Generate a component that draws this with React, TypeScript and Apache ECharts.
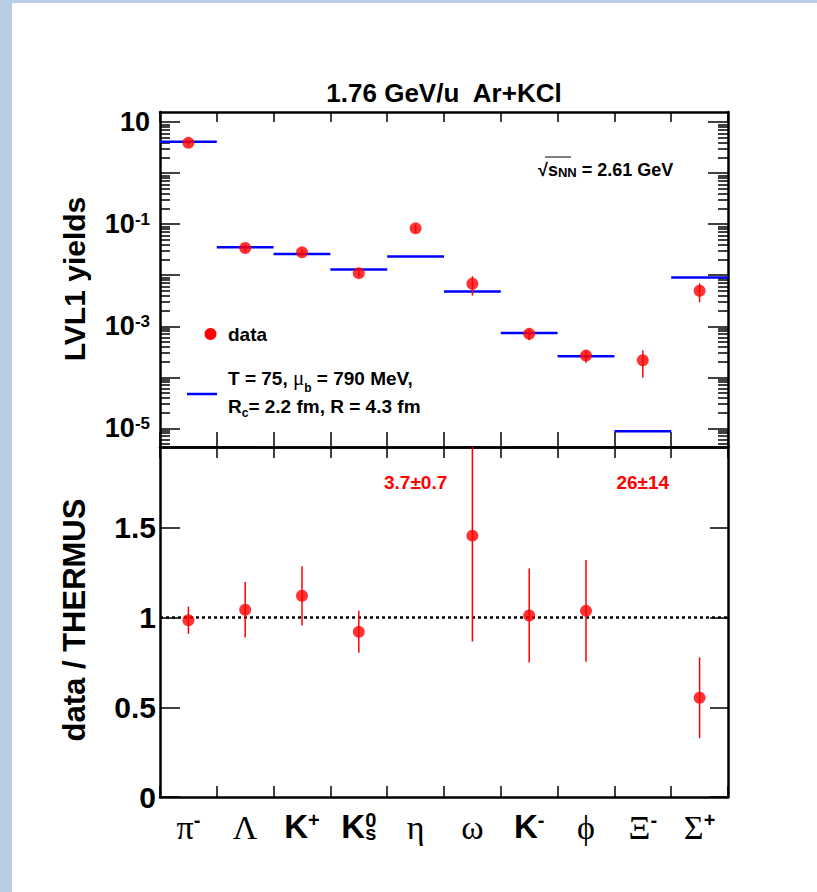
import React, { useEffect, useRef } from 'react';
import * as echarts from 'echarts';

// ---------- data ----------
const particles = ['pi-', 'Lambda', 'K+', 'K0s', 'eta', 'omega', 'K-', 'phi', 'Xi-', 'Sigma+'];
const particleLabels = [
  '{g|π}{sup|-}',
  '{g|Λ}',
  '{k|K}{sup|+}',
  '{k|K}{sub|s}',
  '{g|η}',
  '{g|ω}',
  '{k|K}{sup|-}',
  '{g|ϕ}',
  '{g|Ξ}{sup|-}',
  '{g|Σ}{sup|+}',
];
// superscripts that sit above a subscript (stacked), drawn by a second label row
const stackedSupIndex = [3];
const stackedSupLabel = ['{kh|K}{sup|0}'];

const yieldData = [3.94, 0.0342, 0.0281, 0.011, 0.083, 0.0068, 0.00071, 0.000266, 0.000216, 0.00495];
const yieldErr = [0.3, 0.0051, 0.0041, 0.0014, 0.0157, 0.0028, 0.00018, 0.000073, 0.000117, 0.002];
const thermusYield = [4.12, 0.0352, 0.026, 0.013, 0.0234, 0.0048, 0.00074, 0.000259, 0.0000087, 0.00906];
const ratio = [0.985, 1.043, 1.121, 0.92, 3.7, 1.456, 1.011, 1.037, 26, 0.553];
const ratioErr = [0.076, 0.155, 0.165, 0.117, 0.7, 0.59, 0.262, 0.284, 14, 0.225];
const yieldMajorExps = [-5, -4, -3, -2, -1, 0, 1];
const yieldLabelExps = [-5, -3, -1, 1];
const ratioTicks = [0, 0.5, 1, 1.5];

const LOG_MIN = -5.367;
const LOG_MAX = 1.2;
const RATIO_MAX = 1.95;
const ANNOT_Y = 1.75;

const F = '"Liberation Sans", Arial, Helvetica, sans-serif';
const FS = '"Liberation Serif", "Times New Roman", "DejaVu Serif", serif';
const RED = '#ff0000';
const BLUE = '#0000ff';
const BORDER = '#b9cde5';

const binEdges = particles.map((_, i) => i).concat([particles.length]);
const centers = particles.map((_, i) => i + 0.5);
const minorExps: number[] = [];
for (let n = -6; n <= 1; n++) {
  for (let k = 2; k <= 9; k++) {
    const v = n + Math.log10(k);
    if (v > LOG_MIN && v < LOG_MAX) minorExps.push(v);
  }
}

const axisLineStyle = { color: '#000', width: 2.5 };
const tickStyle = { color: '#000', width: 1.5 };

function errRender(params: any, api: any) {
  const cs = params.coordSys;
  const x = api.value(0);
  const p1 = api.coord([x, api.value(1)]);
  const p2 = api.coord([x, api.value(2)]);
  const top = cs.y;
  const bot = cs.y + cs.height;
  const y1 = Math.min(Math.max(p1[1], top), bot);
  const y2 = Math.min(Math.max(p2[1], top), bot);
  if (Math.abs(y1 - y2) < 0.5) return { type: 'group', children: [] };
  return {
    type: 'line',
    shape: { x1: p1[0], y1, x2: p1[0], y2 },
    style: { stroke: RED, lineWidth: 1.5 },
  };
}

function modelRender(params: any, api: any) {
  const p1 = api.coord([api.value(0), api.value(2)]);
  const p2 = api.coord([api.value(1), api.value(2)]);
  return {
    type: 'line',
    shape: { x1: p1[0], y1: p1[1], x2: p2[0], y2: p2[1] },
    style: { stroke: BLUE, lineWidth: 2.5 },
  };
}

const offscaleIdx = ratio.map((v, i) => (v > RATIO_MAX ? i : -1)).filter((i) => i >= 0);
const offscaleText = offscaleIdx.map((i) => `${ratio[i]}±${ratioErr[i]}`);

function annotRender(params: any, api: any) {
  const p = api.coord([api.value(0), api.value(1)]);
  return {
    type: 'text',
    x: p[0],
    y: p[1],
    style: {
      text: offscaleText[params.dataIndex],
      fill: RED,
      fontSize: 19,
      fontWeight: 'bold',
      fontFamily: F,
      align: 'center',
      verticalAlign: 'middle',
      textAlign: 'center',
      textVerticalAlign: 'middle',
    },
  };
}

function baseX(gridIndex: number, position: string, len: number, extra: any = {}) {
  return {
    gridIndex,
    type: 'value',
    min: 0,
    max: particles.length,
    position,
    axisLine: { show: true, onZero: false, lineStyle: axisLineStyle },
    axisTick: { show: true, inside: true, length: len, customValues: binEdges, lineStyle: tickStyle },
    axisLabel: { show: false },
    splitLine: { show: false },
    ...extra,
  };
}

function baseY(gridIndex: number, position: string, min: number, max: number, ticks: number[], len: number, line: boolean, extra: any = {}) {
  return {
    gridIndex,
    type: 'value',
    min,
    max,
    position,
    axisLine: { show: line, onZero: false, lineStyle: axisLineStyle },
    axisTick: { show: true, inside: true, length: len, customValues: ticks, lineStyle: tickStyle },
    axisLabel: { show: false },
    splitLine: { show: false },
    ...extra,
  };
}

const txt = (text: string, x: number, y: number, size: number, extra: any = {}) => ({
  type: 'text',
  x,
  y,
  silent: true,
  style: {
    text,
    fill: '#000',
    fontSize: size,
    fontWeight: 'bold',
    fontFamily: F,
    align: 'left',
    verticalAlign: 'middle',
    textAlign: 'left',
    textVerticalAlign: 'middle',
    ...extra,
  },
});

const richBase = (size: number) => ({ fontFamily: F, fontWeight: 'bold', fontSize: size, fill: '#000', color: '#000' });
const richSub = (size: number, drop: number) => ({
  fontFamily: F,
  fontWeight: 'bold',
  fontSize: size,
  fill: '#000',
  color: '#000',
  verticalAlign: 'bottom',
  padding: [drop, 0, 0, 0],
});

const particleRich = {
  g: { fontFamily: FS, fontSize: 34, color: '#000' },
  k: { fontFamily: F, fontWeight: 'bold', fontSize: 33, color: '#000' },
  kh: { fontFamily: F, fontWeight: 'bold', fontSize: 33, color: 'rgba(0,0,0,0)' },
  sup: { fontFamily: F, fontWeight: 'bold', fontSize: 20, color: '#000', verticalAlign: 'top' },
  sub: { fontFamily: F, fontWeight: 'bold', fontSize: 20, color: '#000', verticalAlign: 'bottom', padding: [6, 0, 0, 0] },
};

export default function App() {
  const ref = useRef<HTMLDivElement>(null);
  useEffect(() => {
    if (!ref.current) return;
    const chart = echarts.init(ref.current, undefined, { renderer: 'svg', width: 817, height: 892 });
    const option: any = {
      animation: false,
      backgroundColor: '#fff',
      grid: [
        { left: 160, top: 112, width: 568, height: 335, outerBoundsMode: 'none' },
        { left: 160, top: 447, width: 568, height: 350, outerBoundsMode: 'none' },
      ],
      xAxis: [
        baseX(0, 'bottom', 15),
        baseX(0, 'top', 10),
        baseX(1, 'bottom', 11, {
          axisLabel: {
            show: true,
            customValues: centers,
            margin: 13,
            formatter: (v: number) => particleLabels[Math.round(v - 0.5)] || '',
            rich: particleRich,
          },
        }),
        baseX(1, 'top', 11),
        {
          gridIndex: 1,
          type: 'value',
          min: 0,
          max: particles.length,
          position: 'bottom',
          axisLine: { show: false, onZero: false },
          axisTick: { show: false },
          splitLine: { show: false },
          axisLabel: {
            show: true,
            customValues: stackedSupIndex.map((i) => i + 0.5),
            margin: 13,
            formatter: (v: number) => {
              const k = stackedSupIndex.indexOf(Math.round(v - 0.5));
              return k >= 0 ? stackedSupLabel[k] : '';
            },
            rich: particleRich,
          },
        },
      ],
      yAxis: [
        baseY(0, 'left', LOG_MIN, LOG_MAX, yieldMajorExps, 20, true, {
          axisLabel: {
            show: true,
            customValues: yieldLabelExps,
            margin: 10,
            formatter: (v: number) => {
              const e = Math.round(v);
              return e === 1 ? '{b|10}' : `{b|10}{sup|${e}}`;
            },
            rich: {
              b: { fontFamily: F, fontWeight: 'bold', fontSize: 27, color: '#000' },
              sup: { fontFamily: F, fontWeight: 'bold', fontSize: 17, color: '#000', verticalAlign: 'top' },
            },
          },
        }),
        baseY(0, 'left', LOG_MIN, LOG_MAX, minorExps, 10, false),
        baseY(0, 'right', LOG_MIN, LOG_MAX, yieldMajorExps, 20, true),
        baseY(0, 'right', LOG_MIN, LOG_MAX, minorExps, 10, false),
        baseY(1, 'left', 0, RATIO_MAX, ratioTicks, 20, true, {
          axisLabel: {
            show: true,
            customValues: ratioTicks,
            margin: 4,
            formatter: (v: number) => String(Math.round(v * 10) / 10),
            fontFamily: F,
            fontWeight: 'bold',
            fontSize: 30,
            color: '#000',
          },
        }),
        baseY(1, 'right', 0, RATIO_MAX, ratioTicks, 18, true),
      ],
      series: [
        {
          type: 'custom',
          name: 'THERMUS',
          xAxisIndex: 0,
          yAxisIndex: 0,
          renderItem: modelRender,
          encode: { x: [0, 1], y: 2 },
          data: thermusYield.map((v, i) => [i, i + 1, Math.log10(v)]),
          z: 2,
          silent: true,
        },
        {
          type: 'custom',
          name: 'yield errors',
          xAxisIndex: 0,
          yAxisIndex: 0,
          renderItem: errRender,
          encode: { x: 0, y: [1, 2] },
          data: yieldData.map((v, i) => [i + 0.5, Math.log10(v - yieldErr[i]), Math.log10(v + yieldErr[i])]),
          z: 3,
          silent: true,
        },
        {
          type: 'scatter',
          name: 'data',
          xAxisIndex: 0,
          yAxisIndex: 0,
          symbol: 'circle',
          symbolSize: 12,
          itemStyle: { color: RED },
          data: yieldData.map((v, i) => [i + 0.5, Math.log10(v)]),
          z: 4,
          silent: true,
        },
        {
          type: 'custom',
          name: 'ratio errors',
          xAxisIndex: 2,
          yAxisIndex: 4,
          renderItem: errRender,
          encode: { x: 0, y: [1, 2] },
          data: ratio.map((v, i) => [i + 0.5, v - ratioErr[i], v + ratioErr[i]]),
          z: 3,
          silent: true,
        },
        {
          type: 'scatter',
          name: 'ratio',
          xAxisIndex: 2,
          yAxisIndex: 4,
          symbol: 'circle',
          symbolSize: 12,
          itemStyle: { color: RED },
          data: ratio.map((v, i) => [i + 0.5, v]).filter((d) => d[1] <= RATIO_MAX),
          z: 4,
          silent: true,
          markLine: {
            silent: true,
            symbol: 'none',
            label: { show: false },
            lineStyle: { color: '#000', type: [3, 3], width: 2.5 },
            data: [{ yAxis: 1 }],
            z: 1,
          },
        },
        {
          type: 'custom',
          name: 'offscale',
          xAxisIndex: 2,
          yAxisIndex: 4,
          renderItem: annotRender,
          encode: { x: 0, y: 1 },
          data: offscaleIdx.map((i) => [i + 0.5, ANNOT_Y]),
          z: 5,
          silent: true,
        },
      ],
      graphic: [
        { type: 'rect', silent: true, shape: { x: 0, y: 0, width: 12, height: 892 }, style: { fill: BORDER } },
        { type: 'rect', silent: true, shape: { x: 0, y: 0, width: 817, height: 3 }, style: { fill: BORDER } },
        txt('1.76 GeV/u  Ar+KCl', 444, 93, 26, { align: 'center', textAlign: 'center' }),
        { ...txt('LVL1 yields', 74, 279, 30, { align: 'center', textAlign: 'center' }), rotation: Math.PI / 2 },
        { ...txt('data / THERMUS', 74, 620, 31, { align: 'center', textAlign: 'center' }), rotation: Math.PI / 2 },
        // sqrt(s_NN)
        txt('{n|√s}{sub|NN}{n| = 2.61 GeV}', 538, 170, 18, {
          rich: { n: richBase(18), sub: richSub(13, 5) },
        }),
        { type: 'line', silent: true, shape: { x1: 545, y1: 157, x2: 571, y2: 157 }, style: { stroke: '#000', lineWidth: 1 } },
        // legend
        { type: 'circle', silent: true, shape: { cx: 210.5, cy: 334, r: 6 }, style: { fill: RED } },
        txt('data', 228, 334, 19),
        { type: 'line', silent: true, shape: { x1: 187, y1: 394, x2: 217, y2: 394 }, style: { stroke: BLUE, lineWidth: 2.5 } },
        txt('{t|T = 75, }{m|μ}{sub|b}{t| = 790 MeV,}', 228, 378, 19, {
          rich: {
            t: richBase(19),
            m: { fontFamily: FS, fontSize: 21, fill: '#000', color: '#000' },
            sub: richSub(12, 19),
          },
        }),
        txt('{t|R}{sub|c}{t|= 2.2 fm, R = 4.3 fm}', 228, 406, 19, {
          rich: { t: richBase(19), sub: richSub(12, 13) },
        }),
      ],
    };
    chart.setOption(option);
    return () => chart.dispose();
  }, []);
  return (
    <div
      ref={ref}
      style={{ position: 'absolute', left: 0, top: 0, width: 817, height: 892, background: '#fff' }}
    />
  );
}
